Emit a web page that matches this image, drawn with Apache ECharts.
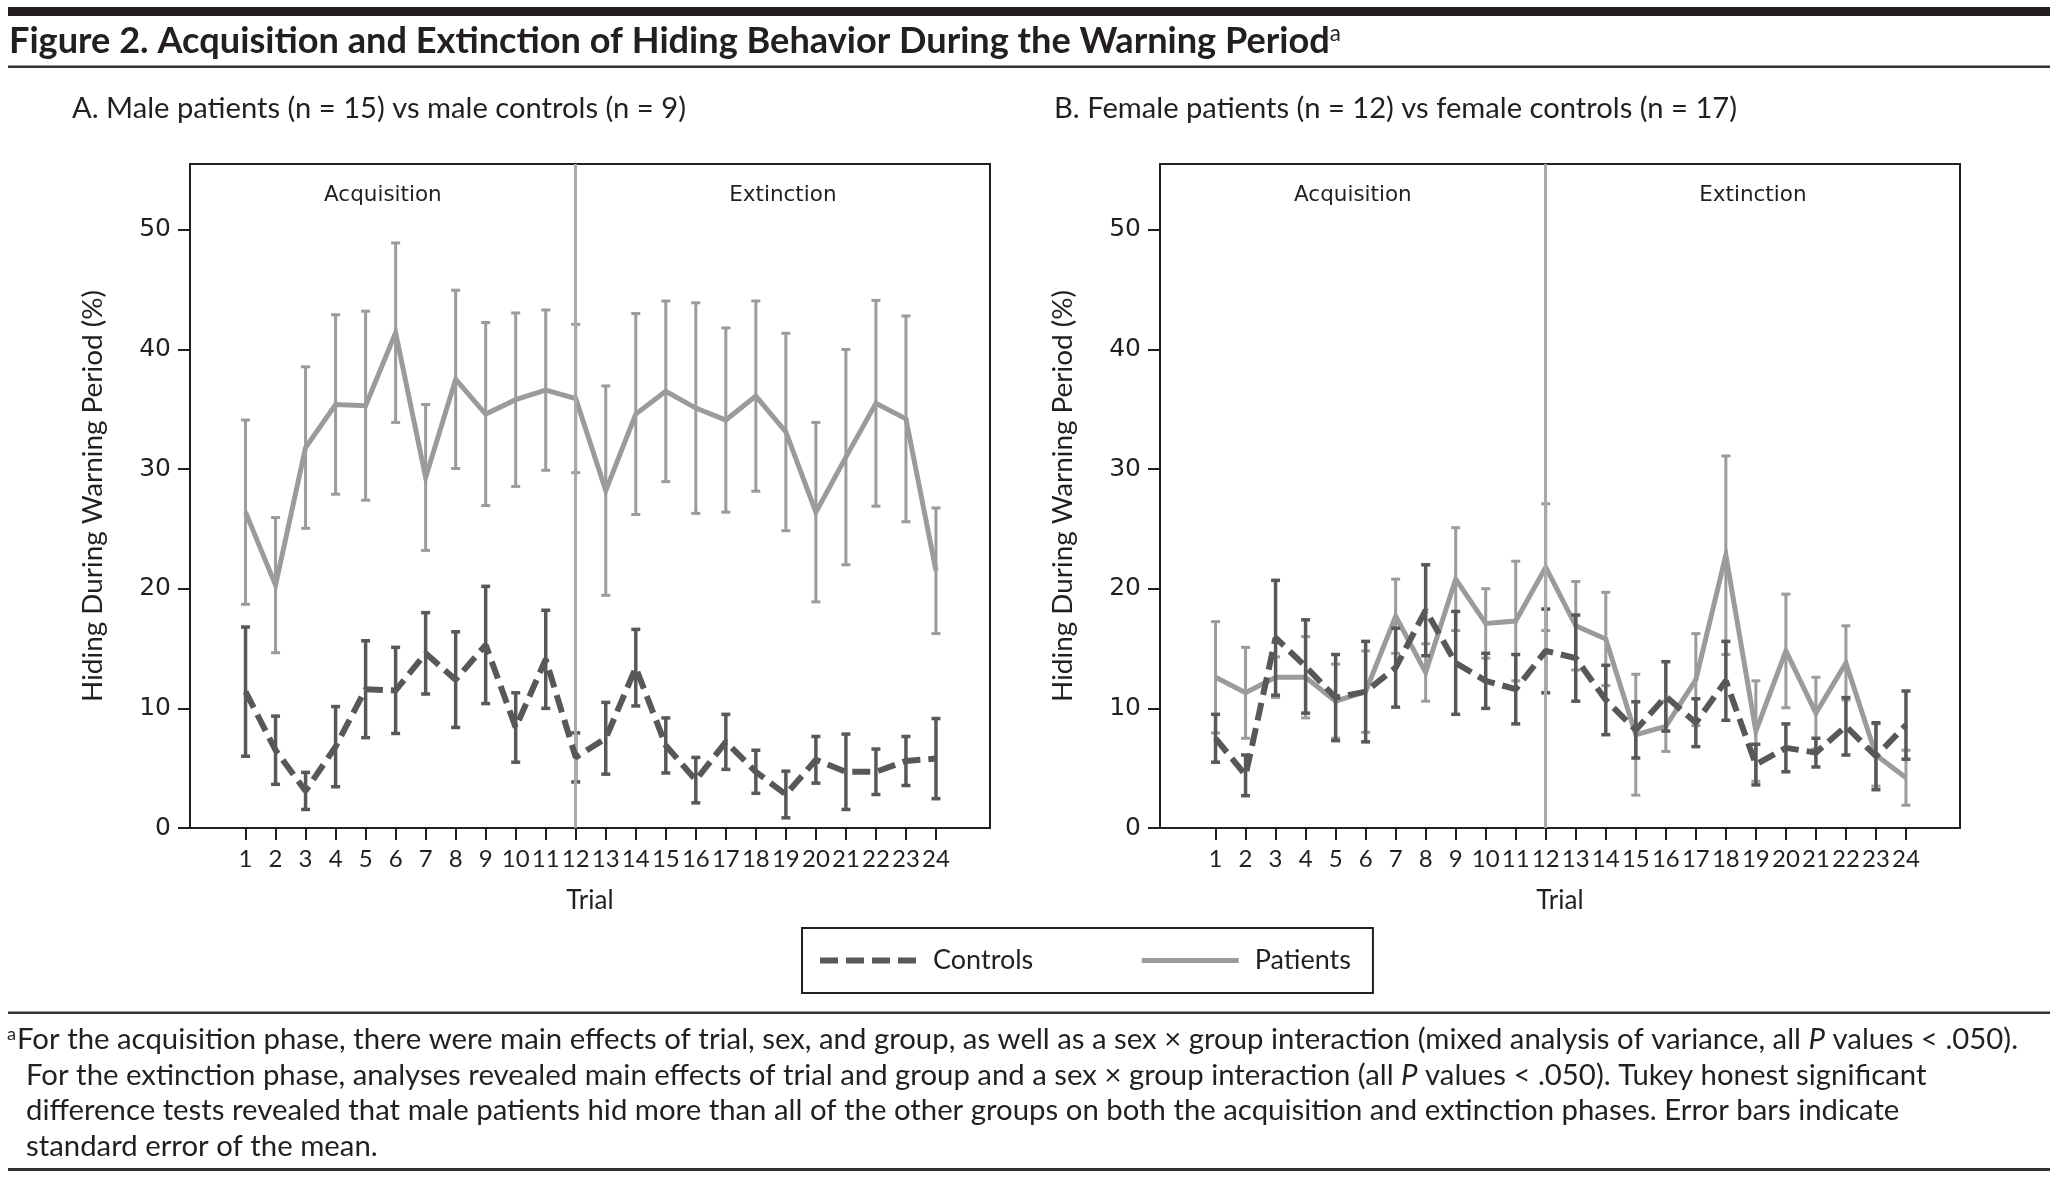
<!DOCTYPE html>
<html>
<head>
<meta charset="utf-8">
<script src="https://cdn.jsdelivr.net/npm/echarts@6/dist/echarts.min.js"></script>
<style>
html,body{margin:0;padding:0;background:#ffffff;}
#c{width:2058px;height:1181px;}
</style>
</head>
<body>
<div id="c"></div>
<script>
// ---------------- data ----------------
const trials = [1,2,3,4,5,6,7,8,9,10,11,12,13,14,15,16,17,18,19,20,21,22,23,24];
const yTicks = [0,10,20,30,40,50];

// A. Male
const maleControlsMean = [11.4,6.5,3.1,6.8,11.6,11.5,14.6,12.4,15.3,8.4,14.1,5.9,7.5,13.4,6.9,4.0,7.2,4.7,2.8,5.7,4.7,4.7,5.6,5.8];
const maleControlsSem  = [5.4,2.85,1.55,3.35,4.05,3.6,3.4,4.0,4.9,2.9,4.1,2.05,3.0,3.2,2.3,1.9,2.3,1.8,1.95,1.95,3.15,1.9,2.05,3.35];
const malePatientsMean = [26.4,20.3,31.8,35.4,35.3,41.4,29.3,37.5,34.6,35.8,36.6,35.9,28.2,34.6,36.5,35.1,34.1,36.1,33.1,26.4,31.0,35.5,34.2,21.5];
const malePatientsSem  = [7.7,5.65,6.75,7.5,7.9,7.5,6.1,7.45,7.65,7.25,6.7,6.2,8.75,8.4,7.55,8.8,7.7,7.95,8.25,7.5,9.0,8.6,8.6,5.25];

// B. Female
const femaleControlsMean = [7.5,4.4,15.9,13.5,10.9,11.4,13.4,18.2,13.8,12.3,11.6,14.8,14.2,10.7,8.2,11.0,8.8,12.3,5.3,6.7,6.3,8.5,6.0,8.6];
const femaleControlsSem  = [2.0,1.7,4.8,3.9,3.6,4.2,3.3,3.8,4.3,2.3,2.9,3.5,3.6,2.9,2.35,2.9,2.0,3.3,1.7,2.0,1.2,2.4,2.8,2.85];
const femalePatientsMean = [12.6,11.3,12.6,12.6,10.6,11.4,17.7,13.0,20.8,17.1,17.3,21.8,16.9,15.8,7.8,8.5,12.4,22.8,8.1,14.8,9.6,13.8,6.1,4.2];
const femalePatientsSem  = [4.65,3.8,1.7,3.4,3.1,3.4,3.1,2.4,4.3,2.9,5.0,5.3,3.7,3.9,5.05,2.1,3.85,8.3,4.2,4.75,3.0,3.1,2.6,2.3];

const phaseBoundary = 12;
const phaseNames = ['Acquisition','Extinction'];
const groupNames = ['Controls','Patients'];

const titleText = 'Figure 2. Acquisition and Extinction of Hiding Behavior During the Warning Period';
const subtitleA = 'A. Male patients (n = 15) vs male controls (n = 9)';
const subtitleB = 'B. Female patients (n = 12) vs female controls (n = 17)';
const yAxisName = 'Hiding During Warning Period (%)';
const xAxisName = 'Trial';
const note1a = 'For the acquisition phase, there were main effects of trial, sex, and group, as well as a sex × group interaction (mixed analysis of variance, all ';
const note1b = ' values < .050).';
const note2a = 'For the extinction phase, analyses revealed main effects of trial and group and a sex × group interaction (all ';
const note2b = ' values < .050). Tukey honest significant';
const note3 = 'difference tests revealed that male patients hid more than all of the other groups on both the acquisition and extinction phases. Error bars indicate';
const note4 = 'standard error of the mean.';

// ---------------- styling ----------------
const INK = '#231f20';
const RULE = '#333333';
const SANS = 'Lato';
const VERD = 'DejaVu Sans';
const PAT = '#9b9b9b';
const CON = '#58585a';
const X_MIN = -0.85, X_MAX = 25.8, Y_MAX = 55.5;

const mctx = document.createElement('canvas').getContext('2d');
function fit(text, weight, family, target) {
  mctx.font = weight + ' 100px "' + family + '"';
  return 100 * target / mctx.measureText(text).width;
}
const titleSize = fit(titleText, 'bold', SANS, 1321);
const subSize = fit(subtitleA, 'normal', SANS, 614);
const noteSize = fit(note1a + 'P' + note1b, 'normal', SANS, 2003);
const yNameSize = fit(yAxisName, 'normal', SANS, 412);

function errRender(color, width, cap) {
  return function (params, api) {
    const x = api.value(0), m = api.value(1), s = api.value(2);
    const top = api.coord([x, m + s]);
    const bot = api.coord([x, m - s]);
    const st = { stroke: color, lineWidth: width };
    return {
      type: 'group',
      children: [
        { type: 'line', shape: { x1: top[0], y1: top[1], x2: bot[0], y2: bot[1] }, style: st },
        { type: 'line', shape: { x1: top[0] - cap, y1: top[1], x2: top[0] + cap, y2: top[1] }, style: st },
        { type: 'line', shape: { x1: bot[0] - cap, y1: bot[1], x2: bot[0] + cap, y2: bot[1] }, style: st }
      ]
    };
  };
}

const panels = [
  { cm: maleControlsMean, cs: maleControlsSem, pm: malePatientsMean, ps: malePatientsSem, left: 190 },
  { cm: femaleControlsMean, cs: femaleControlsSem, pm: femalePatientsMean, ps: femalePatientsSem, left: 1160 }
];

const grids = [], xAxes = [], yAxes = [], series = [];
panels.forEach(function (p, k) {
  grids.push({ left: p.left, top: 164, width: 800, height: 664, show: true, borderColor: INK, borderWidth: 2, backgroundColor: 'transparent' });
  xAxes.push({
    type: 'value', gridIndex: k, min: X_MIN, max: X_MAX,
    name: xAxisName, nameLocation: 'middle', nameGap: 60,
    nameTextStyle: { fontFamily: SANS, fontSize: 26, color: INK },
    axisLine: { show: true, onZero: false, lineStyle: { color: INK, width: 2 } },
    axisTick: { show: true, length: 12, lineStyle: { color: INK, width: 2 }, customValues: trials },
    axisLabel: { show: true, customValues: trials, fontFamily: SANS, fontSize: 24, color: INK, margin: 19 },
    splitLine: { show: false }
  });
  yAxes.push({
    type: 'value', gridIndex: k, min: 0, max: Y_MAX,
    name: yAxisName, nameLocation: 'middle', nameGap: 83, nameRotate: 90,
    nameTextStyle: { fontFamily: SANS, fontSize: yNameSize, color: INK },
    axisLine: { show: true, onZero: false, lineStyle: { color: INK, width: 2 } },
    axisTick: { show: true, length: 12, lineStyle: { color: INK, width: 2 }, customValues: yTicks },
    axisLabel: { show: true, customValues: yTicks, fontFamily: VERD, fontSize: 25, color: INK, margin: 19 },
    splitLine: { show: false }
  });
  // divider and phase labels
  series.push({
    type: 'line', name: 'phase' + k, xAxisIndex: k, yAxisIndex: k, data: [], z: 1, silent: true,
    markLine: {
      silent: true, symbol: ['none', 'none'], animation: false,
      label: { show: false },
      lineStyle: { color: '#a9a9a9', width: 3, type: 'solid' },
      emphasis: { disabled: true },
      data: [{ xAxis: phaseBoundary }]
    },
    markArea: {
      silent: true,
      itemStyle: { color: 'rgba(0,0,0,0)' },
      label: { show: true, position: 'insideTop', distance: 20, fontFamily: VERD, fontSize: 21.5, color: INK },
      emphasis: { disabled: true },
      data: [
        [{ name: phaseNames[0], xAxis: X_MIN }, { xAxis: phaseBoundary }],
        [{ name: phaseNames[1], xAxis: phaseBoundary }, { xAxis: X_MAX }]
      ]
    }
  });
  series.push({
    type: 'custom', name: 'pErr' + k, xAxisIndex: k, yAxisIndex: k, z: 2, silent: true,
    renderItem: errRender(PAT, 3, 4.5),
    encode: { x: 0, y: 1 },
    data: trials.map(function (t, i) { return [t, p.pm[i], p.ps[i]]; })
  });
  series.push({
    type: 'line', name: groupNames[1], xAxisIndex: k, yAxisIndex: k, z: 3, silent: true,
    symbol: 'none', lineStyle: { color: PAT, width: 5, join: 'miter' }, itemStyle: { color: PAT },
    data: trials.map(function (t, i) { return [t, p.pm[i]]; })
  });
  series.push({
    type: 'custom', name: 'cErr' + k, xAxisIndex: k, yAxisIndex: k, z: 4, silent: true,
    renderItem: errRender(CON, 3.5, 4.5),
    encode: { x: 0, y: 1 },
    data: trials.map(function (t, i) { return [t, p.cm[i], p.cs[i]]; })
  });
  series.push({
    type: 'line', name: groupNames[0], xAxisIndex: k, yAxisIndex: k, z: 5, silent: true,
    symbol: 'none', lineStyle: { color: CON, width: 6, type: [18, 8] }, itemStyle: { color: CON },
    data: trials.map(function (t, i) { return [t, p.cm[i]]; })
  });
});

const graphics = [
  { type: 'rect', shape: { x: 8, y: 7, width: 2042, height: 9 }, style: { fill: INK }, silent: true },
  { type: 'rect', shape: { x: 8, y: 65.5, width: 2042, height: 2.5 }, style: { fill: RULE }, silent: true },
  { type: 'rect', shape: { x: 8, y: 1011.5, width: 2042, height: 2.5 }, style: { fill: RULE }, silent: true },
  { type: 'rect', shape: { x: 8, y: 1168, width: 2042, height: 3 }, style: { fill: RULE }, silent: true },
  {
    type: 'text', x: 9, y: 41, silent: true,
    style: {
      text: '{m|' + titleText + '}{s|a}', verticalAlign: 'middle', align: 'left', fill: INK,
      rich: {
        m: { fontFamily: SANS, fontWeight: 'bold', fontSize: titleSize, fill: INK },
        s: { fontFamily: SANS, fontWeight: 'normal', fontSize: titleSize * 0.62, fill: INK, verticalAlign: 'top' }
      }
    }
  },
  { type: 'text', x: 72, y: 109, silent: true, style: { text: subtitleA, fontFamily: SANS, fontSize: subSize, fill: INK, verticalAlign: 'middle' } },
  { type: 'text', x: 1054, y: 109, silent: true, style: { text: subtitleB, fontFamily: SANS, fontSize: subSize, fill: INK, verticalAlign: 'middle' } },
  {
    type: 'text', x: 7, y: 1040, silent: true,
    style: {
      text: '{s|a}{t|' + note1a + '}{i|P}{t|' + note1b + '}', verticalAlign: 'middle', fill: INK,
      rich: {
        s: { fontFamily: SANS, fontSize: noteSize * 0.62, fill: INK, verticalAlign: 'top', padding: [0, 1, 0, 0] },
        t: { fontFamily: SANS, fontSize: noteSize, fill: INK },
        i: { fontFamily: SANS, fontSize: noteSize, fontStyle: 'italic', fill: INK }
      }
    }
  },
  {
    type: 'text', x: 26, y: 1075.5, silent: true,
    style: {
      text: '{t|' + note2a + '}{i|P}{t|' + note2b + '}', verticalAlign: 'middle', fill: INK,
      rich: {
        t: { fontFamily: SANS, fontSize: noteSize, fill: INK },
        i: { fontFamily: SANS, fontSize: noteSize, fontStyle: 'italic', fill: INK }
      }
    }
  },
  { type: 'text', x: 26, y: 1111, silent: true, style: { text: note3, fontFamily: SANS, fontSize: noteSize, fill: INK, verticalAlign: 'middle' } },
  { type: 'text', x: 26, y: 1146.5, silent: true, style: { text: note4, fontFamily: SANS, fontSize: noteSize, fill: INK, verticalAlign: 'middle' } }
];

const chart = echarts.init(document.getElementById('c'), null, { renderer: 'canvas', width: 2058, height: 1181 });
chart.setOption({
  animation: false,
  backgroundColor: '#ffffff',
  grid: grids,
  xAxis: xAxes,
  yAxis: yAxes,
  legend: {
    data: [
      { name: groupNames[0], lineStyle: { width: 6, color: CON, type: [18, 8] }, itemStyle: { opacity: 0 } },
      { name: groupNames[1], lineStyle: { width: 5, color: PAT, type: 'solid' }, itemStyle: { opacity: 0 } }
    ],
    left: 802, top: 928,
    orient: 'horizontal',
    itemWidth: 97, itemHeight: 25, itemGap: 106,
    padding: [19, 22, 19, 15],
    borderColor: INK, borderWidth: 2,
    selectedMode: false,
    itemStyle: { opacity: 0 },
    textStyle: { fontFamily: SANS, fontSize: 27, color: INK, padding: [0, 0, 0, 11] }
  },
  series: series,
  graphic: graphics
});
</script>
</body>
</html>
